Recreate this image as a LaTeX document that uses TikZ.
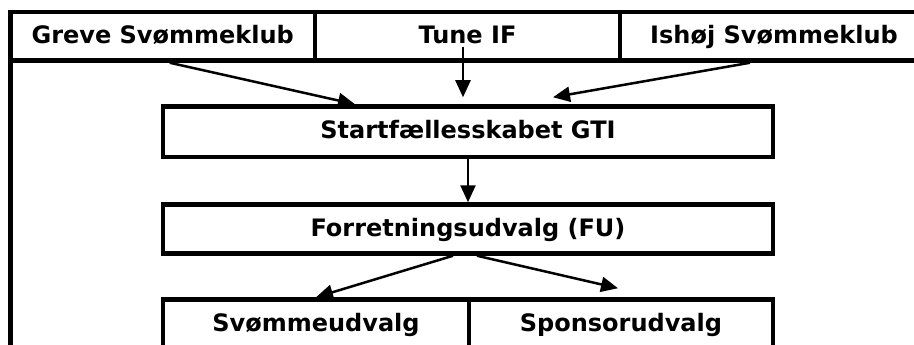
\documentclass[tikz,border=0pt]{standalone}
\usepackage{fontspec}
\setmainfont{DejaVu Sans}
\usetikzlibrary{arrows.meta, calc}

\begin{document}
\begin{tikzpicture}[x=1pt, y=-1pt, pil/.style={-{Triangle[length=17pt,width=15pt]}, line width=2.5pt}]
	\useasboundingbox (0,0) rectangle (914,345);
	\begin{scope}[every node/.style={draw,rectangle,line width=4.5pt,inner sep=0,text height=18pt,text depth=4pt,font=\fontsize{24}{27}\selectfont\bfseries}]
	% klubberne
	\node[minimum width=304.5pt, minimum height=48.5pt] (greve) at (162.75,36.25) {Greve Svømmeklub};
	\node[minimum width=305pt, minimum height=48.5pt] (tune) at (467.5,36.25) {Tune IF};
	\node[minimum width=308pt, minimum height=48.5pt] (ishoj) at (774,36.25) {Ishøj Svømmeklub};
	
	\node[minimum width=610pt, minimum height=50.5pt] (gti) at (468,131.75) {Startfællesskabet GTI};
	\node[minimum width=610pt, minimum height=49pt] (fu) at (468,229) {Forretningsudvalg (FU)};
	
	\node[minimum width=306pt, minimum height=50pt] (svom) at (316,324.5) {Svømmeudvalg};
	\node[minimum width=304pt, minimum height=50pt] (spons) at (621,324.5) {Sponsorudvalg};
	\end{scope}
	
	% venstre kant
	\coordinate (bund) at (10.5,350);
	\draw[line width=4.5pt] (greve.center -| bund) -- (bund);
	
	\draw[pil] ($(greve.south)+(7,0)$) to ($(gti.north)+(-113,0)$);
	\draw[pil] ($(tune.south)+(-4.5,-16)$) to ($(gti.north)+(-5,-7)$);
	\draw[pil] ($(ishoj.south)+(-24,0)$) to ($(gti.north)+(85,-7)$);
	
	\draw[pil] (gti.south) to (fu.north);
	
	\draw[pil] ($(fu.south)+(-15,0)$) to (svom.north);
	\draw[pil] ($(fu.south)+(9,0)$) to ($(spons.north)+(-3,-9)$);
\end{tikzpicture}
\end{document}
